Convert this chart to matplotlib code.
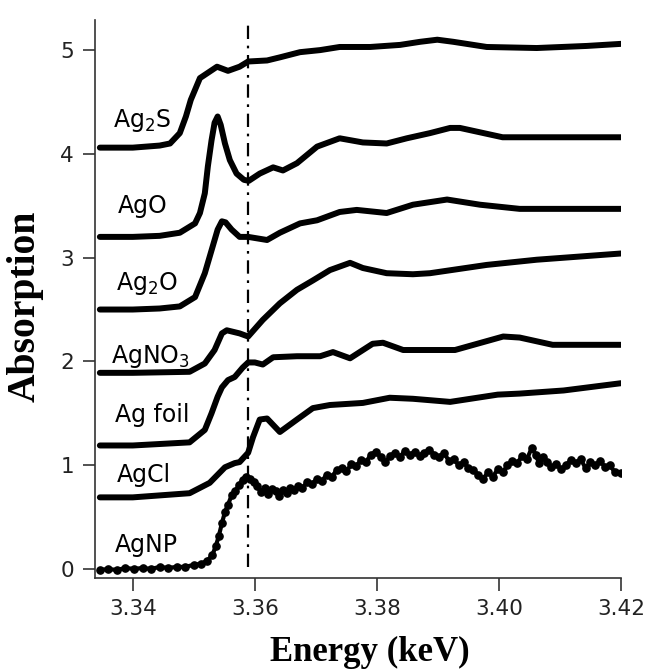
import matplotlib
matplotlib.use("Agg")
import matplotlib.pyplot as plt

# energies in keV, absorption offset per sample
ag2s_e = [3.3346, 3.3400, 3.3444, 3.3461, 3.3477, 3.3487, 3.3495, 3.3510, 3.3538,
          3.3556, 3.3575, 3.3589, 3.3620, 3.3641, 3.3674, 3.3707, 3.3739, 3.3789,
          3.3838, 3.3871, 3.3899, 3.3925, 3.3980, 3.4062, 3.4144, 3.4200]
ag2s_y = [4.06, 4.06, 4.08, 4.10, 4.20, 4.36, 4.52, 4.73, 4.84,
          4.80, 4.84, 4.89, 4.90, 4.93, 4.98, 5.00, 5.03, 5.03,
          5.05, 5.08, 5.10, 5.08, 5.03, 5.02, 5.04, 5.06]

ago_e = [3.3346, 3.3400, 3.3444, 3.3477, 3.3502, 3.3510, 3.3518, 3.3523, 3.3529,
         3.3534, 3.3539, 3.3544, 3.3551, 3.3559, 3.3570, 3.3582, 3.3590, 3.3608,
         3.3630, 3.3646, 3.3669, 3.3702, 3.3739, 3.3777, 3.3816, 3.3849, 3.3887,
         3.3920, 3.3936, 3.4006, 3.4088, 3.4200]
ago_y = [3.20, 3.20, 3.21, 3.24, 3.33, 3.43, 3.62, 3.88, 4.13,
         4.30, 4.36, 4.28, 4.10, 3.94, 3.81, 3.75, 3.74, 3.81,
         3.87, 3.84, 3.91, 4.07, 4.15, 4.11, 4.10, 4.15, 4.20,
         4.25, 4.25, 4.16, 4.16, 4.16]

ag2o_e = [3.3346, 3.3400, 3.3444, 3.3477, 3.3502, 3.3518, 3.3529, 3.3539, 3.3546,
          3.3552, 3.3562, 3.3575, 3.3589, 3.3620, 3.3641, 3.3674, 3.3702, 3.3739,
          3.3767, 3.3816, 3.3859, 3.3915, 3.3969, 3.4034, 3.4200]
ag2o_y = [2.50, 2.50, 2.51, 2.53, 2.62, 2.85, 3.07, 3.27, 3.35,
          3.34, 3.27, 3.20, 3.20, 3.17, 3.24, 3.33, 3.36, 3.44,
          3.46, 3.43, 3.51, 3.56, 3.51, 3.47, 3.47]

agno3_e = [3.3346, 3.3400, 3.3493, 3.3518, 3.3534, 3.3546, 3.3554, 3.3575, 3.3589,
           3.3613, 3.3641, 3.3669, 3.3695, 3.3723, 3.3756, 3.3777, 3.3816, 3.3859,
           3.3887, 3.3980, 3.4062, 3.4200]
agno3_y = [1.89, 1.89, 1.90, 1.98, 2.11, 2.27, 2.30, 2.27, 2.24,
           2.40, 2.56, 2.69, 2.78, 2.88, 2.95, 2.90, 2.85, 2.84,
           2.85, 2.93, 2.98, 3.04]

agfoil_e = [3.3346, 3.3400, 3.3493, 3.3518, 3.3529, 3.3539, 3.3546, 3.3556, 3.3567,
            3.3580, 3.3589, 3.3600, 3.3613, 3.3630, 3.3669, 3.3707, 3.3728, 3.3756,
            3.3793, 3.3810, 3.3843, 3.3928, 3.4007, 3.4034, 3.4088, 3.4200]
agfoil_y = [1.19, 1.19, 1.22, 1.34, 1.50, 1.66, 1.75, 1.82, 1.85,
            1.94, 1.99, 1.99, 1.97, 2.04, 2.05, 2.05, 2.09, 2.03,
            2.17, 2.18, 2.11, 2.11, 2.24, 2.23, 2.16, 2.16]

agcl_e = [3.3346, 3.3400, 3.3493, 3.3526, 3.3551, 3.3567, 3.3575, 3.3589, 3.3597,
          3.3608, 3.3620, 3.3641, 3.3669, 3.3695, 3.3723, 3.3777, 3.3821, 3.3859,
          3.3920, 3.3998, 3.4034, 3.4106, 3.4200]
agcl_y = [0.69, 0.69, 0.73, 0.83, 0.98, 1.02, 1.03, 1.12, 1.27,
          1.44, 1.45, 1.32, 1.44, 1.55, 1.58, 1.60, 1.65, 1.64,
          1.61, 1.68, 1.69, 1.72, 1.79]

agnp_e = [3.3346, 3.3360, 3.3374, 3.3388, 3.3402, 3.3416, 3.3430, 3.3444, 3.3458,
          3.3472, 3.3486, 3.3500, 3.3512, 3.3522, 3.3530, 3.3536, 3.3541, 3.3546,
          3.3551, 3.3556, 3.3562, 3.3568, 3.3574, 3.3580, 3.3586, 3.3592, 3.3598,
          3.3604, 3.3610, 3.3616, 3.3622, 3.3628, 3.3634, 3.3640, 3.3646, 3.3652,
          3.3658, 3.3664, 3.3670, 3.3678, 3.3686, 3.3694, 3.3702, 3.3710, 3.3718,
          3.3726, 3.3734, 3.3742, 3.3750, 3.3758, 3.3766, 3.3774, 3.3782, 3.3790,
          3.3798, 3.3806, 3.3814, 3.3822, 3.3830, 3.3838, 3.3846, 3.3854, 3.3862,
          3.3870, 3.3878, 3.3886, 3.3894, 3.3902, 3.3910, 3.3918, 3.3926, 3.3934,
          3.3942, 3.3950, 3.3958, 3.3966, 3.3974, 3.3982, 3.3990, 3.3998, 3.4006,
          3.4014, 3.4022, 3.4030, 3.4038, 3.4046, 3.4054, 3.4060, 3.4066, 3.4072,
          3.4078, 3.4086, 3.4094, 3.4102, 3.4110, 3.4118, 3.4126, 3.4134, 3.4142,
          3.4150, 3.4158, 3.4166, 3.4174, 3.4182, 3.4190, 3.4200]
agnp_y = [-0.01, 0.00, -0.01, 0.01, 0.00, 0.01, 0.00, 0.02, 0.01,
          0.02, 0.02, 0.04, 0.05, 0.08, 0.13, 0.22, 0.32, 0.44,
          0.55, 0.62, 0.71, 0.75, 0.81, 0.86, 0.89, 0.87, 0.84,
          0.80, 0.74, 0.78, 0.72, 0.77, 0.75, 0.70, 0.76, 0.73,
          0.78, 0.76, 0.80, 0.78, 0.84, 0.82, 0.87, 0.85, 0.91,
          0.89, 0.95, 0.97, 0.94, 1.01, 0.99, 1.05, 1.03, 1.10,
          1.13, 1.08, 1.03, 1.09, 1.12, 1.08, 1.14, 1.10, 1.13,
          1.09, 1.12, 1.15, 1.10, 1.08, 1.12, 1.04, 1.06, 1.00,
          1.03, 0.97, 0.95, 0.91, 0.87, 0.93, 0.89, 0.96, 0.93,
          1.00, 1.04, 1.02, 1.09, 1.06, 1.17, 1.10, 1.02, 1.08,
          1.03, 0.98, 1.01, 0.96, 1.00, 1.05, 1.02, 1.06, 0.97,
          1.03, 1.00, 1.04, 0.98, 1.00, 0.93, 0.92]

labels = ["Ag$_2$S", "AgO", "Ag$_2$O", "AgNO$_3$", "Ag foil", "AgCl", "AgNP"]
label_x = [3.3367, 3.3375, 3.3373, 3.3365, 3.3370, 3.3373, 3.3370]
label_y = [4.26, 3.43, 2.69, 1.98, 1.42, 0.84, 0.16]

edge_energy = 3.3589

plt.rcParams["mathtext.default"] = "regular"

fig = plt.figure(figsize=(6.47, 6.71), dpi=100)
ax = fig.add_axes([0.1468, 0.1386, 0.8130, 0.8316])

smooth = [(ag2s_e, ag2s_y), (ago_e, ago_y), (ag2o_e, ag2o_y), (agno3_e, agno3_y),
          (agfoil_e, agfoil_y), (agcl_e, agcl_y)]
for e, y in smooth:
    ax.plot(e, y, color="black", linewidth=4.3, solid_capstyle="round",
            solid_joinstyle="round")
ax.plot(agnp_e, agnp_y, color="black", linewidth=3, marker="o", markersize=5.2)

ax.plot([edge_energy, edge_energy], [0.02, 5.32], color="black", linewidth=1.6,
        linestyle=(0, (6, 3, 1.2, 3)))

for text, x, y in zip(labels, label_x, label_y):
    ax.text(x, y, text, fontsize=17, va="baseline", ha="left", family="DejaVu Sans")

ax.set_xlim(3.3338, 3.42)
ax.set_ylim(-0.087, 5.29)
ax.set_xticks([3.34, 3.36, 3.38, 3.40, 3.42])
ax.set_xticklabels(["3.34", "3.36", "3.38", "3.40", "3.42"])
ax.set_yticks([0, 1, 2, 3, 4, 5])

for side in ("top", "right"):
    ax.spines[side].set_visible(False)
for side in ("left", "bottom"):
    ax.spines[side].set_linewidth(1.2)
    ax.spines[side].set_color("#333333")
ax.tick_params(direction="out", length=9, width=1.2, color="#333333",
               labelsize=15.5, pad=6, labelcolor="#222222")

ax.set_xlabel("Energy (keV)", family="Liberation Serif", fontweight="bold",
              fontsize=25)
ax.set_ylabel("Absorption", family="Liberation Serif", fontweight="bold",
              fontsize=28.5)
ax.xaxis.set_label_coords(0.523, -0.103)
ax.yaxis.set_label_coords(-0.097, 0.486)

fig.savefig("out.png", dpi=100)
